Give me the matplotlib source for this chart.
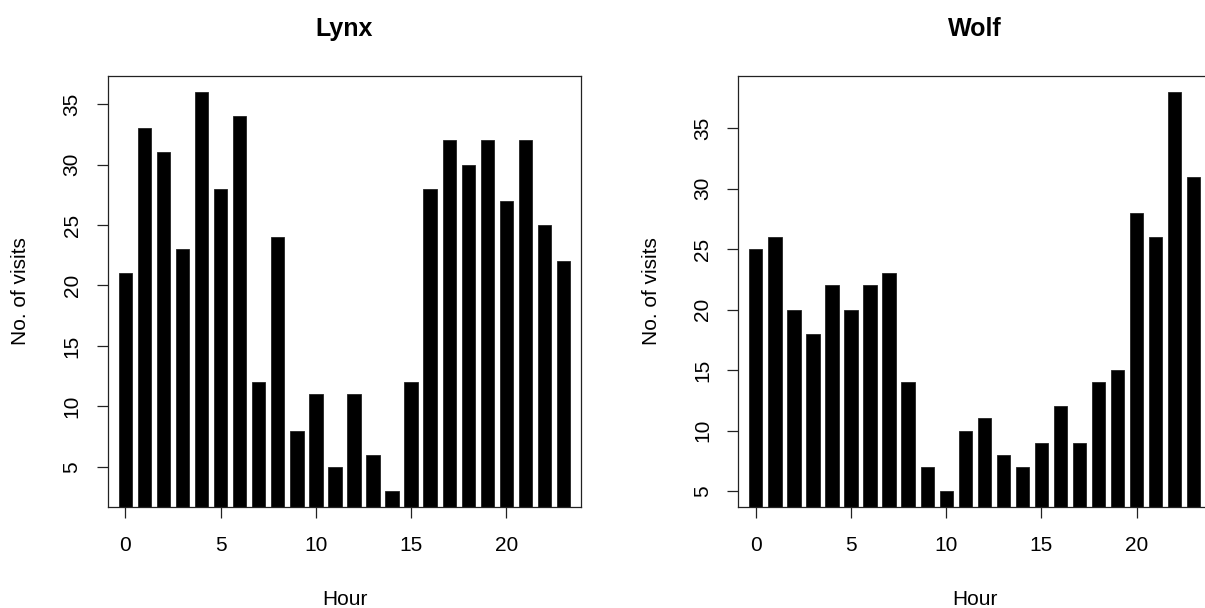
import matplotlib
matplotlib.use("Agg")
import matplotlib.pyplot as plt

hours = list(range(24))
lynx = [21, 33, 31, 23, 36, 28, 34, 12, 24, 8, 11, 5,
        11, 6, 3, 12, 28, 32, 30, 32, 27, 32, 25, 22]
wolf = [25, 26, 20, 18, 22, 20, 22, 23, 14, 7, 5, 10,
        11, 8, 7, 9, 12, 9, 14, 15, 28, 26, 38, 31]
titles = ["Lynx", "Wolf"]
xticks = [0, 5, 10, 15, 20]
yticks = [5, 10, 15, 20, 25, 30, 35]

plt.rcParams['font.family'] = ['Liberation Sans', 'DejaVu Sans']

fig = plt.figure(figsize=(12.05, 6.08), dpi=100)

def rlim(vals):
    # R style 4% padding around data range
    lo, hi = min(vals), max(vals)
    d = 0.04 * (hi - lo)
    return lo - d, hi + d

def panel(left, vals, title):
    ax = fig.add_axes([left, 0.1661, 0.3925, 0.7089])
    ax.bar(hours, vals, width=0.7, color="black", edgecolor="#222222", linewidth=0.6)
    ax.set_xlim(*rlim(hours))
    ax.set_ylim(*rlim(vals))
    ax.set_xticks(xticks)
    ax.set_yticks(yticks)
    ax.tick_params(axis='both', length=8, width=0.9, labelsize=15, color="#222222")
    ax.tick_params(axis='x', pad=13)
    ax.tick_params(axis='y', pad=11, labelrotation=90)
    for lab in ax.get_yticklabels():
        lab.set_va('center')
    for s in ax.spines.values():
        s.set_linewidth(0.9)
        s.set_color("#222222")
    ax.set_title(title, fontsize=18, fontweight='bold', pad=29)
    ax.set_xlabel("Hour", fontsize=15)
    ax.set_ylabel("No. of visits", fontsize=15)
    ax.xaxis.set_label_coords(0.5, -0.193)
    ax.yaxis.set_label_coords(-0.184, 0.5)
    ax.yaxis.label.set_va('center')
    return ax

panel(0.0896, lynx, titles[0])
panel(0.6127, wolf, titles[1])

fig.savefig("out.png", dpi=100)
